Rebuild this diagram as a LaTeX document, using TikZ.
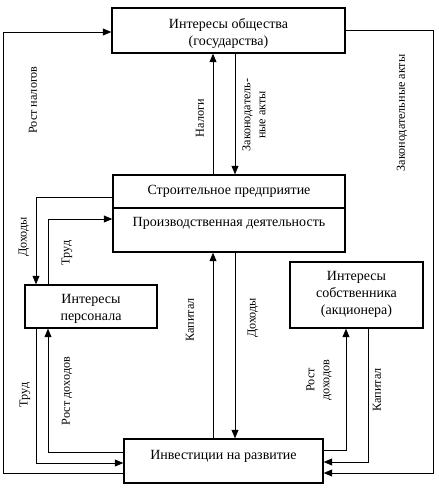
\documentclass[tikz,border=0pt]{standalone}
\usepackage{fontspec}
\setmainfont{Liberation Serif}
\usetikzlibrary{arrows.meta}
\begin{document}
\begin{tikzpicture}[x=1pt,y=-1pt,
  box/.style={draw,line width=1.4pt,inner sep=0pt,align=center},
  conn/.style={line width=0.8pt},
  arr/.style={conn,-{Triangle[length=8.5pt,width=7pt]}},
  lbl/.style={rotate=90,inner sep=0pt,align=center,font=\fontsize{12.2}{15}\selectfont},
  txt/.style={inner sep=0pt,align=center,font=\fontsize{14}{17}\selectfont}]
\useasboundingbox (0,0) rectangle (439,490);
\fill[white] (0,0) rectangle (439,490);
% boxes
\node[box,minimum width=233pt,minimum height=45pt] (top) at (228.5,30.5) {};
\node[txt] (toptxt) at (228.5,33) {Интересы общества\\(государства)};
\node[box,minimum width=232pt,minimum height=77pt] (ent) at (229,213.5) {};
\coordinate (dvl) at (113,208);
\coordinate (dvr) at (345,208);
\draw[line width=1.2pt] (ent.west |- dvl) -- (ent.east |- dvr);
\node[txt] (enta) at (229,191) {Строительное предприятие};
\node[txt] (entb) at (229,223) {Производственная деятельность};
\node[box,minimum width=132pt,minimum height=43pt] (pers) at (91,306.5) {};
\node[txt] (perstxt) at (91,309) {Интересы\\персонала};
\node[box,minimum width=133pt,minimum height=66pt] (own) at (356.5,295) {};
\node[txt] (owntxt) at (356.5,294) {Интересы\\собственника\\(акционера)};
\node[box,minimum width=199pt,minimum height=44pt] (inv) at (223.5,461) {};
\node[txt] (invtxt) at (223.5,456) {Инвестиции на развитие};
% coordinates
\coordinate (L1) at (3,473);
\coordinate (L2) at (3,32);
\coordinate (R1) at (433,30);
\coordinate (R2) at (433,473);
\coordinate (xN) at (213,0);
\coordinate (xZ) at (235,0);
\coordinate (D1) at (36,197);
\coordinate (T1) at (48,219);
\coordinate (P1) at (48,452);
\coordinate (P2) at (36,463);
\coordinate (Q1) at (346,450);
\coordinate (Q2) at (368,462);
% connectors
\draw[arr] (inv.west |- L1) -- (L1) -- (L2) -- (top.west |- L2);
\draw[arr] (top.east |- R1) -- (R1) -- (R2) -- (inv.east |- R2);
\draw[arr] (ent.north -| xN) -- (top.south -| xN);
\draw[arr] (top.south -| xZ) -- (ent.north -| xZ);
\draw[arr] (ent.west |- D1) -- (D1) -- (pers.north -| D1);
\draw[arr] (pers.north -| T1) -- (T1) -- (ent.west |- T1);
\draw[arr] (inv.north -| xN) -- (ent.south -| xN);
\draw[arr] (ent.south -| xZ) -- (inv.north -| xZ);
\draw[arr] (inv.west |- P1) -- (P1) -- (pers.south -| P1);
\draw[arr] (pers.south -| P2) -- (P2) -- (inv.west |- P2);
\draw[arr] (inv.east |- Q1) -- (Q1) -- (own.south -| Q1);
\draw[arr] (own.south -| Q2) -- (Q2) -- (inv.east |- Q2);
% labels
\node[lbl] (l1) at (33,100) {Рост налогов};
\node[lbl] (l2) at (200,118) {Налоги};
\node[lbl] (l3) at (254,115) {Законодатель-\\ные акты};
\node[lbl] (l4) at (402,113) {Законодательные акты};
\node[lbl] (l5) at (24,237) {Доходы};
\node[lbl] (l6) at (67,253) {Труд};
\node[lbl] (l7) at (190,320) {Капитал};
\node[lbl] (l8) at (253,318) {Доходы};
\node[lbl] (l9) at (67,391) {Рост доходов};
\node[lbl] (l10) at (25,395) {Труд};
\node[lbl] (l11) at (319,380) {Рост\\доходов};
\node[lbl] (l12) at (377,390) {Капитал};
\end{tikzpicture}
\end{document}
